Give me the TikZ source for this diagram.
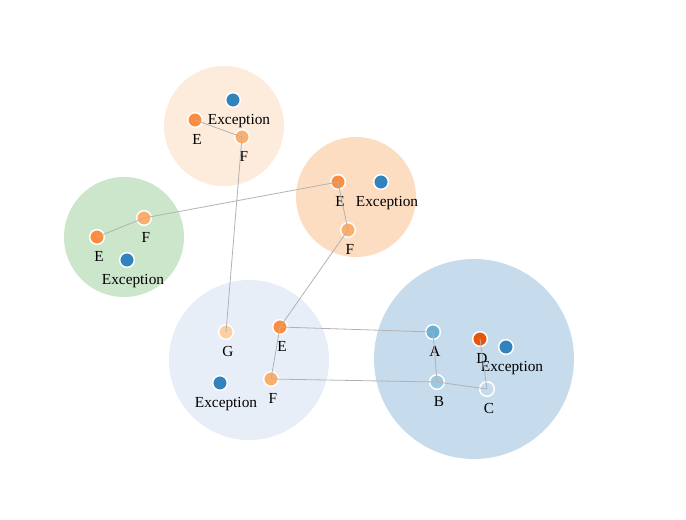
\documentclass[tikz,border=0pt]{standalone}
\usepackage{fontspec}
\setmainfont{Liberation Serif}

\definecolor{hullA}{HTML}{FDEBDB}
\definecolor{hullB}{HTML}{FDDDC2}
\definecolor{hullC}{HTML}{CBE6CB}
\definecolor{hullD}{HTML}{E8EEF8}
\definecolor{hullE}{HTML}{C6DBEC}
\definecolor{dotE}{HTML}{FD8D3C}
\definecolor{dotF}{HTML}{FDAE6B}
\definecolor{dotG}{HTML}{FDD0A2}
\definecolor{dotX}{HTML}{3182BD}
\definecolor{dotA}{HTML}{6BAED6}
\definecolor{dotB}{HTML}{9ECAE1}
\definecolor{dotC}{HTML}{C6DBEF}
\definecolor{dotD}{HTML}{E6550D}

\begin{document}
\begin{tikzpicture}[x=0.75pt,y=-0.75pt,font=\fontsize{11.5}{13}\selectfont]

      \useasboundingbox (0,0) rectangle (686,519);

      % hulls
      \begin{scope}[every path/.style={draw=none}]
        \fill[hullA] (224,126) circle (60);
        \fill[hullB] (356,197) circle (60);
        \fill[hullC] (124,237) circle (60);
        \fill[hullD] (249,360) circle (80);
        \fill[hullE] (474,359) circle (100);
      \end{scope}

      \begin{scope}[every node/.style={circle,draw=white,line width=1.1pt,
          minimum size=11pt,inner sep=0pt,label distance=3.5pt},
          every label/.style={rectangle,draw=none,fill=none,minimum size=0pt,inner sep=1pt,xshift=1.5pt}]
        % top hull
        \node[fill=dotX,label={[xshift=3pt]below:Exception}] (tx) at (233,100) {};
        \node[fill=dotE,label={below:E}] (te) at (195,120) {};
        \node[fill=dotF,label={below:F}] (tf) at (242,137) {};
        % right hull
        \node[fill=dotE,label={below:E}] (re) at (338,182) {};
        \node[fill=dotX,label={[xshift=3pt]below:Exception}] (rx) at (381,182) {};
        \node[fill=dotF,label={below:F}] (rf) at (348,230) {};
        % green hull
        \node[fill=dotF,label={below:F}] (gf) at (144,218) {};
        \node[fill=dotE,label={below:E}] (ge) at (97,237) {};
        \node[fill=dotX,label={[xshift=3pt]below:Exception}] (gx) at (127,260) {};
        % lavender hull
        \node[fill=dotG,label={below:G}] (lg) at (226,332) {};
        \node[fill=dotE,label={below:E}] (le) at (280,327) {};
        \node[fill=dotF,label={below:F}] (lf) at (271,379) {};
        \node[fill=dotX,label={[xshift=3pt]below:Exception}] (lx) at (220,383) {};
        % blue hull
        \node[fill=dotA,label={below:A}] (a) at (433,332) {};
        \node[fill=dotD,label={below:D}] (d) at (480,339) {};
        \node[fill=dotX,label={[xshift=3pt]below:Exception}] (bx) at (506,347) {};
        \node[fill=dotB,label={below:B}] (b) at (437,382) {};
        \node[fill=dotC,label={below:C}] (c) at (487,389) {};
      \end{scope}

      \begin{scope}[every edge/.style={draw=black!30,line width=0.6pt}]
        \path (te.center) edge (tf.center);
        \path (tf.center) edge (lg.center);
        \path (ge.center) edge (gf.center);
        \path (gf.center) edge (re.center);
        \path (re.center) edge (rf.center);
        \path (rf.center) edge (le.center);
        \path (le.center) edge (a.center);
        \path (le.center) edge (lf.center);
        \path (lf.center) edge (b.center);
        \path (a.center)  edge (b.center);
        \path (b.center)  edge (c.center);
        \path (c.center)  edge (d.center);
      \end{scope}

    \end{tikzpicture}
\end{document}
